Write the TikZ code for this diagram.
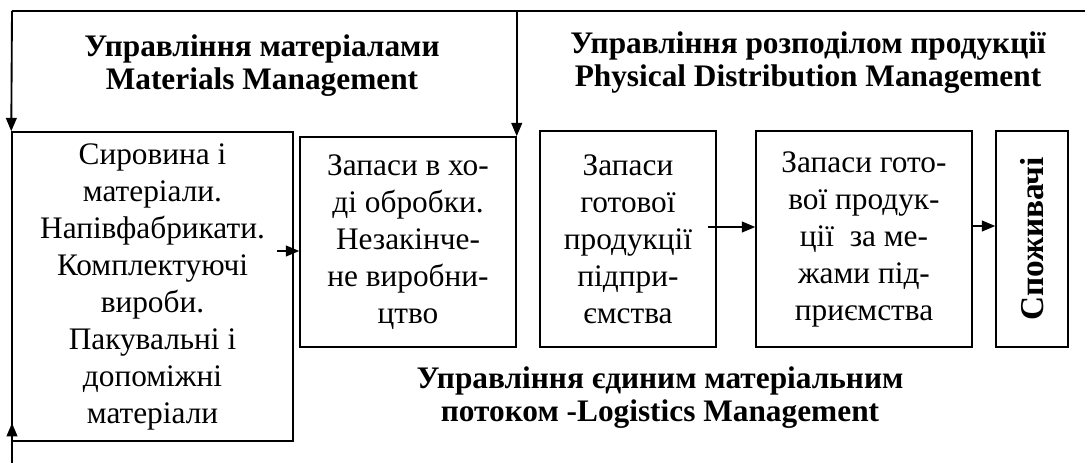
\documentclass[tikz,border=0pt]{standalone}
\usepackage{fontspec}
\setmainfont{Liberation Serif}
\usetikzlibrary{arrows.meta}

\begin{document}
\begin{tikzpicture}[x=0.75pt,y=-0.75pt,
		box/.style={draw=black,line width=1.1pt,inner sep=0pt,align=center,
			font=\fontsize{23.5}{27.75}\selectfont},
		head/.style={inner sep=0pt,align=center,
			font=\fontsize{23.5}{24.75}\selectfont\bfseries},
		flow/.style={line width=1.4pt,-{Triangle[length=10pt,width=8pt]}}]
		\useasboundingbox (0,0) rectangle (1085,463);
		% boxes
		\node [box,minimum width=210.75pt,minimum height=231.75pt] (raw) at (152.5,286.5)
			{Сировина і\\матеріали.\\Напівфабрикати.\\Комплектуючі\\вироби.\\Пакувальні і\\допоміжні\\матеріали};
		\node [box,minimum width=162pt,minimum height=157.5pt] (wip) at (408,242)
			{Запаси в хо-\\ді обробки.\\Незакінче-\\не виробни-\\цтво};
		\node [box,minimum width=132pt,minimum height=162pt] (fgin) at (628,239)
			{Запаси\\готової\\продукції\\підпри-\\ємства};
		\node [box,minimum width=162pt,minimum height=162pt] (fgout) at (864,239)
			{Запаси гото-\\вої продук-\\ції~ за ме-\\жами під-\\приємства};
		\node [box,minimum width=54pt,minimum height=162pt] (cons) at (1032,239) {};
		\node [rotate=90,inner sep=0pt,font=\fontsize{25}{26}\selectfont\bfseries] (consl) at (cons.center) {Споживачі};
		% headings
		\node [head] (matman) at (262,66) {Управління матеріалами\\Materials Management};
		\node [head] (pdman) at (808,63) {Управління розподілом продукції\\Physical Distribution Management};
		\node [head] (logman) at (660,398) {Управління єдиним матеріальним\\потоком -Logistics Management};
		% frame lines
		\coordinate (tl) at (12,11);
		\coordinate (tr) at (1085,11);
		\coordinate (bl) at (12,463);
		\coordinate (bt) at (12,423);
		\draw [line width=1.4pt] (tl) -- (tr);
		\draw [flow] (tl) -- (raw.north west);
		\draw [flow] (wip.north east |- tl) -- (wip.north east);
		\draw [flow] (bl) -- (bt);
		% flows
		\coordinate (s1) at (277,251);
		\coordinate (s2) at (708,227);
		\draw [flow] (s1) -- (s1 -| wip.west);
		\draw [flow] (s2) -- (s2 -| fgout.west);
		\draw [flow] (fgout.east |- 0,226) -- (cons.west |- 0,226);
\end{tikzpicture}
\end{document}
